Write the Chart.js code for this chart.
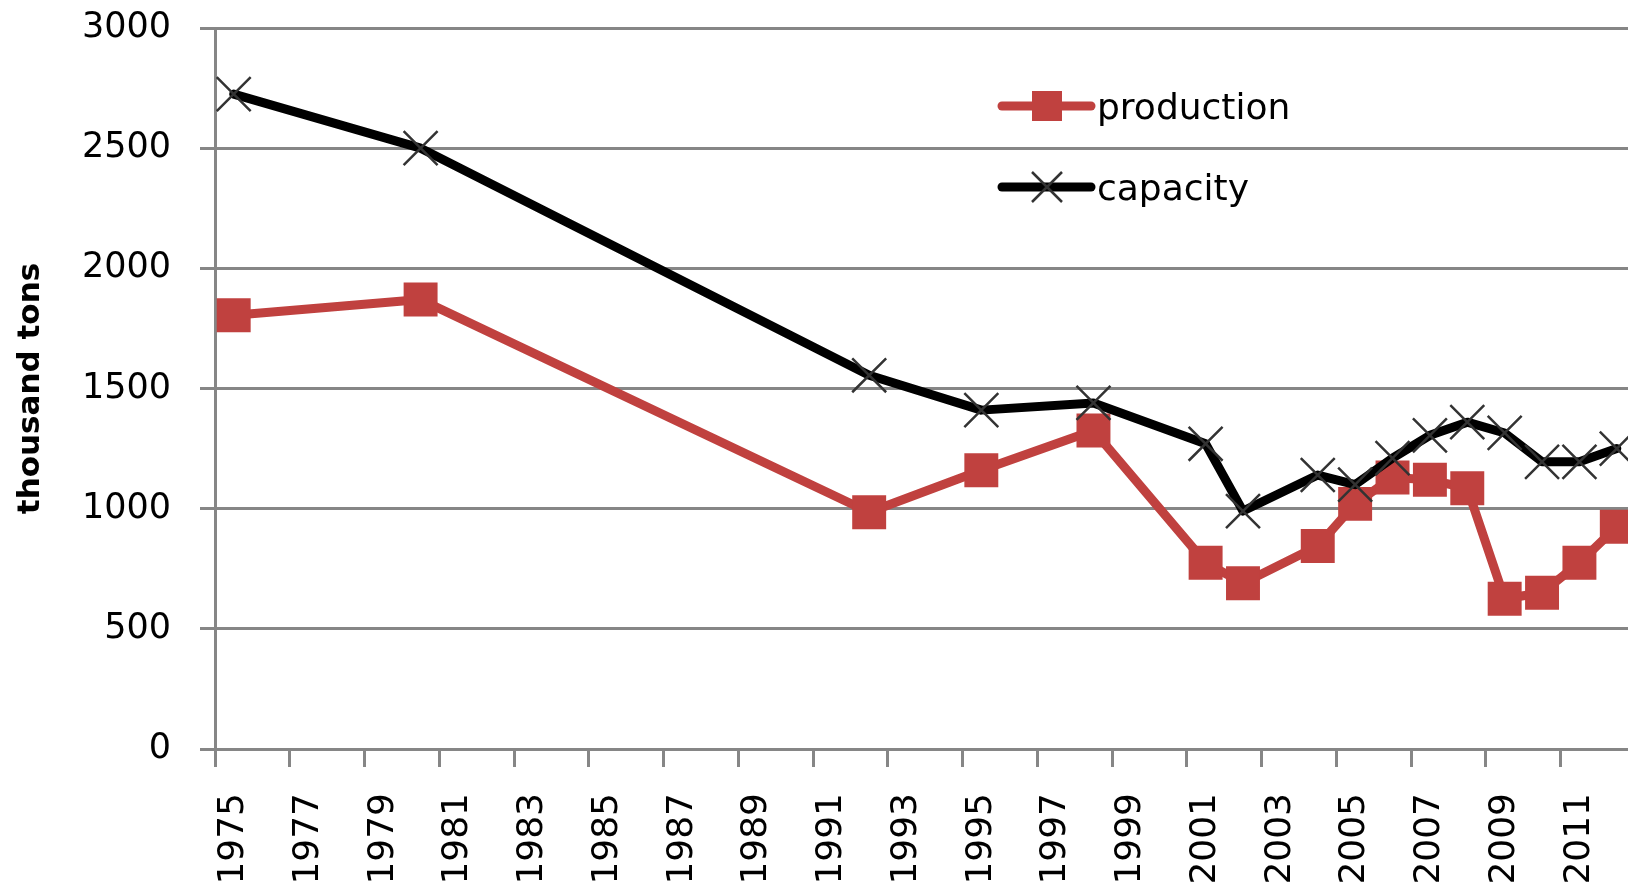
<!DOCTYPE html>
<html>
<head>
<meta charset="utf-8">
<title>production and capacity</title>
<script src="https://cdn.jsdelivr.net/npm/chart.js@4.4.1/dist/chart.umd.min.js"></script>
<style>
  html, body { margin: 0; padding: 0; background: #fff; overflow: hidden; }
  #wrap { width: 1662px; height: 884px; }
</style>
</head>
<body>
<div id="wrap"><canvas id="prodChart" width="1662" height="884"></canvas></div>
<script>
// categories: one per year, labels shown every second year
const years = [1975, 1976, 1977, 1978, 1979, 1980, 1981, 1982, 1983, 1984,
  1985, 1986, 1987, 1988, 1989, 1990, 1991, 1992, 1993, 1994,
  1995, 1996, 1997, 1998, 1999, 2000, 2001, 2002, 2003, 2004,
  2005, 2006, 2007, 2008, 2009, 2010, 2011, 2012];

// thousand tons, null = no data for that year
const production = [1805, null, null, null, null, 1870, null, null, null, null,
  null, null, null, null, null, null, null, 985, null, null,
  1160, null, null, 1325, null, null, 775, 690, null, 845,
  1020, 1130, 1120, 1085, 625, 650, 775, 925];

const capacity = [2725, null, null, null, null, 2500, null, null, null, null,
  null, null, null, null, null, null, null, 1555, null, null,
  1410, null, null, 1440, null, null, 1270, 990, null, 1140,
  1100, 1210, 1305, 1360, 1315, 1195, 1195, 1250];

const yTicks = [0, 500, 1000, 1500, 2000, 2500, 3000];

const RED = "#C0413F";
const GRID = "#868686";
const FONT = "'DejaVu Sans', Verdana, sans-serif";

// legend sits inside the plot, drawn by hand (Excel style)
const insideLegend = {
  id: "insideLegend",
  afterDraw(chart) {
    const ctx = chart.ctx;
    const rows = [
      { label: "production", color: RED, marker: "rect", y: 106 },
      { label: "capacity", color: "#000", marker: "cross", y: 187 },
    ];
    ctx.save();
    rows.forEach((r) => {
      ctx.strokeStyle = r.color;
      ctx.lineWidth = 9;
      ctx.lineCap = "round";
      ctx.beginPath();
      ctx.moveTo(1002, r.y);
      ctx.lineTo(1091, r.y);
      ctx.stroke();
      if (r.marker === "rect") {
        ctx.fillStyle = RED;
        ctx.fillRect(1032, r.y - 15, 30, 30);
      } else {
        ctx.strokeStyle = "#333";
        ctx.lineWidth = 2.5;
        ctx.lineCap = "butt";
        ctx.beginPath();
        ctx.moveTo(1032, r.y - 15);
        ctx.lineTo(1062, r.y + 15);
        ctx.moveTo(1062, r.y - 15);
        ctx.lineTo(1032, r.y + 15);
        ctx.stroke();
      }
      ctx.fillStyle = "#000";
      ctx.font = "36px " + FONT;
      ctx.textBaseline = "middle";
      ctx.textAlign = "left";
      ctx.fillText(r.label, 1097, r.y + 4);
    });
    ctx.restore();
  },
};

const ctx = document.getElementById("prodChart").getContext("2d");
const myChart = new Chart(ctx, {
  type: "line",
  data: {
    labels: years,
    datasets: [
      {
        label: "production",
        data: production,
        order: 1,
        borderColor: RED,
        backgroundColor: RED,
        borderWidth: 9,
        borderJoinStyle: "round",
        borderCapStyle: "round",
        pointStyle: "rect",
        pointRadius: 24,
        pointBorderWidth: 0,
        pointBackgroundColor: RED,
        spanGaps: true,
        tension: 0,
      },
      {
        label: "capacity",
        data: capacity,
        order: 0,
        borderColor: "#000",
        backgroundColor: "#000",
        borderWidth: 9,
        borderJoinStyle: "round",
        borderCapStyle: "round",
        pointStyle: "crossRot",
        pointRadius: 24,
        pointBorderWidth: 2.5,
        pointBorderColor: "#333",
        spanGaps: true,
        tension: 0,
      },
    ],
  },
  options: {
    responsive: false,
    animation: false,
    devicePixelRatio: 1,
    events: [],
    layout: { padding: { top: 28, left: 0, right: 0, bottom: 0 } },
    plugins: {
      legend: { display: false },
      tooltip: { enabled: false },
    },
    scales: {
      x: {
        type: "category",
        offset: true,
        grid: {
          offset: true,
          drawOnChartArea: false,
          drawTicks: true,
          tickLength: 18,
          lineWidth: 3,
          // a tick mark only every second year
          color: (c) => (c.index % 2 === 0 ? GRID : "rgba(0,0,0,0)"),
        },
        border: { display: true, color: GRID, width: 3 },
        ticks: {
          autoSkip: false,
          minRotation: 90,
          maxRotation: 90,
          padding: 26,
          color: "#000",
          font: { family: FONT, size: 36 },
          callback: function (value, index) {
            return index % 2 === 0 ? String(years[index]) : "";
          },
        },
        afterFit: function (scale) {
          scale.height = 135;
          scale.paddingLeft = 0;
          scale.paddingRight = 0;
        },
      },
      y: {
        min: yTicks[0],
        max: yTicks[yTicks.length - 1],
        afterBuildTicks: function (scale) {
          scale.ticks = yTicks.map((v) => ({ value: v }));
        },
        grid: {
          drawTicks: true,
          tickLength: 15,
          lineWidth: 3,
          color: GRID,
        },
        border: { display: true, color: GRID, width: 3 },
        ticks: {
          padding: 29,
          color: "#000",
          font: { family: FONT, size: 35 },
          callback: function (value) {
            return String(value);
          },
        },
        title: {
          display: true,
          text: "thousand tons",
          color: "#000",
          padding: { top: 12, bottom: 0 },
          font: { family: FONT, size: 31, weight: "bold" },
        },
        afterFit: function (scale) {
          scale.width = 215;
          scale.paddingTop = 0;
          scale.paddingBottom = 0;
        },
      },
    },
  },
  plugins: [insideLegend],
});
</script>
</body>
</html>
